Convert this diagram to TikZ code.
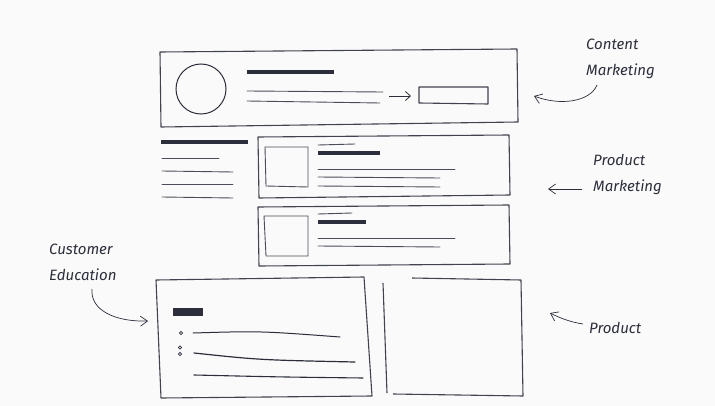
\documentclass[tikz,border=0pt]{standalone}
\usepackage{fontspec}
\setmainfont{Fira Sans}
\usetikzlibrary{arrows.meta}
\definecolor{ink}{HTML}{2C2E3B}
\definecolor{inkthin}{HTML}{4A4C58}
\definecolor{bg}{HTML}{FAFAFA}
\tikzset{
  frame/.style={draw=ink!90, line width=1.1pt, line join=round},
  thinline/.style={draw=inkthin, line width=0.9pt, line cap=round},
  thickbar/.style={draw=ink, line width=4pt},
  lbl/.style={text=ink, font=\fontsize{15}{26}\selectfont\itshape, align=left, inner sep=0pt, anchor=west},
  callout/.style={draw=ink, line width=0.7pt, -{Straight Barb[length=7pt,width=10pt]}},
}
\begin{document}
\begin{tikzpicture}[x=1pt,y=-1pt]
\fill[bg] (0,0) rectangle (715,406);
\useasboundingbox (0,0) rectangle (715,406);

% ---- top box (content marketing)
\draw[frame] (160,52) -- (517,49) -- (518,122) -- (161,127) -- cycle;
\draw[draw=ink, line width=1pt] (201,89) circle (25);
\draw[thickbar] (247,72) -- (334,72);
\draw[thinline] (247,91) -- (383,92);
\draw[thinline] (247,101) -- (380,103);
\coordinate (ctaL) at (389,96);
\draw[frame] (419,87) -- (488,87) -- (488,104) -- (419,103) -- cycle;
\coordinate (ctaR) at (411,96);
\draw[draw=ink, line width=0.8pt, -{Straight Barb[length=5pt,width=9pt]}] (ctaL) -- (ctaR);

% ---- sidebar
\draw[thickbar, line width=3.5pt] (161,142) -- (248,142);
\draw[thinline] (162,158) -- (219,158);
\draw[thinline] (162,171) -- (233,172);
\draw[thinline] (162,184) -- (233,184);
\draw[thinline] (162,197) -- (233,198);

% ---- card 1
\draw[frame] (258,137) -- (509,135) -- (510,195) -- (259,198) -- cycle;
\draw[draw=inkthin, line width=0.9pt] (265,147) -- (308,147) -- (308,187) -- (266,186) -- cycle;
\draw[thinline] (318,145) -- (355,144);
\draw[thickbar, line width=3.5pt] (318,153) -- (380,153);
\draw[thinline] (318,169) -- (455,169);
\draw[thinline] (318,177) -- (440,178);
\draw[thinline] (318,186) -- (440,187);

% ---- card 2
\draw[frame] (258,207) -- (509,205) -- (510,264) -- (259,266) -- cycle;
\draw[draw=inkthin, line width=0.9pt] (264,216) -- (308,216) -- (308,256) -- (266,256) -- cycle;
\draw[thinline] (318,214) -- (352,213);
\draw[thickbar, line width=3.5pt] (318,222) -- (366,222);
\draw[thinline] (318,238) -- (455,238);
\draw[thinline] (318,246) -- (440,247);

% ---- bottom-left box (customer education)
\draw[frame] (156,280) -- (364,277) -- (372,396) -- (161,398) -- cycle;
\fill[ink] (173,308) rectangle (203,316);
\draw[draw=ink, line width=0.7pt] (181,333) circle (1.6);
\draw[draw=ink, line width=0.7pt] (180,347.5) circle (1.6);
\draw[draw=ink, line width=0.7pt] (180,354) circle (1.6);
\draw[draw=ink, line width=1pt, line cap=round] (193,333) .. controls (260,331) .. (340,337);
\draw[draw=ink, line width=1.2pt, line cap=round] (194,353) .. controls (260,360) .. (355,362);
\draw[draw=ink, line width=1.1pt, line cap=round] (194,375) .. controls (280,377) .. (363,378);

% ---- bottom-right box (product)
\draw[frame] (383,283) -- (387,393);
\draw[frame] (412,278) -- (521,280) -- (523,396) -- (393,394);

% ---- labels
\node[lbl] (cm) at (586,59) {Content\\Marketing};
\node[lbl] (pm) at (593,175) {Product\\Marketing};
\node[lbl] (ce) at (49,262) {Customer\\Education};
\node[lbl] (pr) at (589,328) {Product};

% ---- callout targets
\coordinate (cmT) at (534,96);
\coordinate (pmT) at (548,189);
\coordinate (ceT) at (148,321);
\coordinate (prT) at (550,313);
\coordinate (cmS) at (597,85);
\coordinate (pmS) at (582,189);
\coordinate (ceS) at (92,289);
\coordinate (prS) at (583,324);

\draw[callout] (cmS) .. controls (590,102) and (560,106) .. (cmT);
\draw[callout] (pmS) -- (pmT);
\draw[callout] (ceS) .. controls (90,310) and (115,322) .. (ceT);
\draw[callout] (prS) .. controls (570,322) and (560,318) .. (prT);
\end{tikzpicture}
\end{document}
